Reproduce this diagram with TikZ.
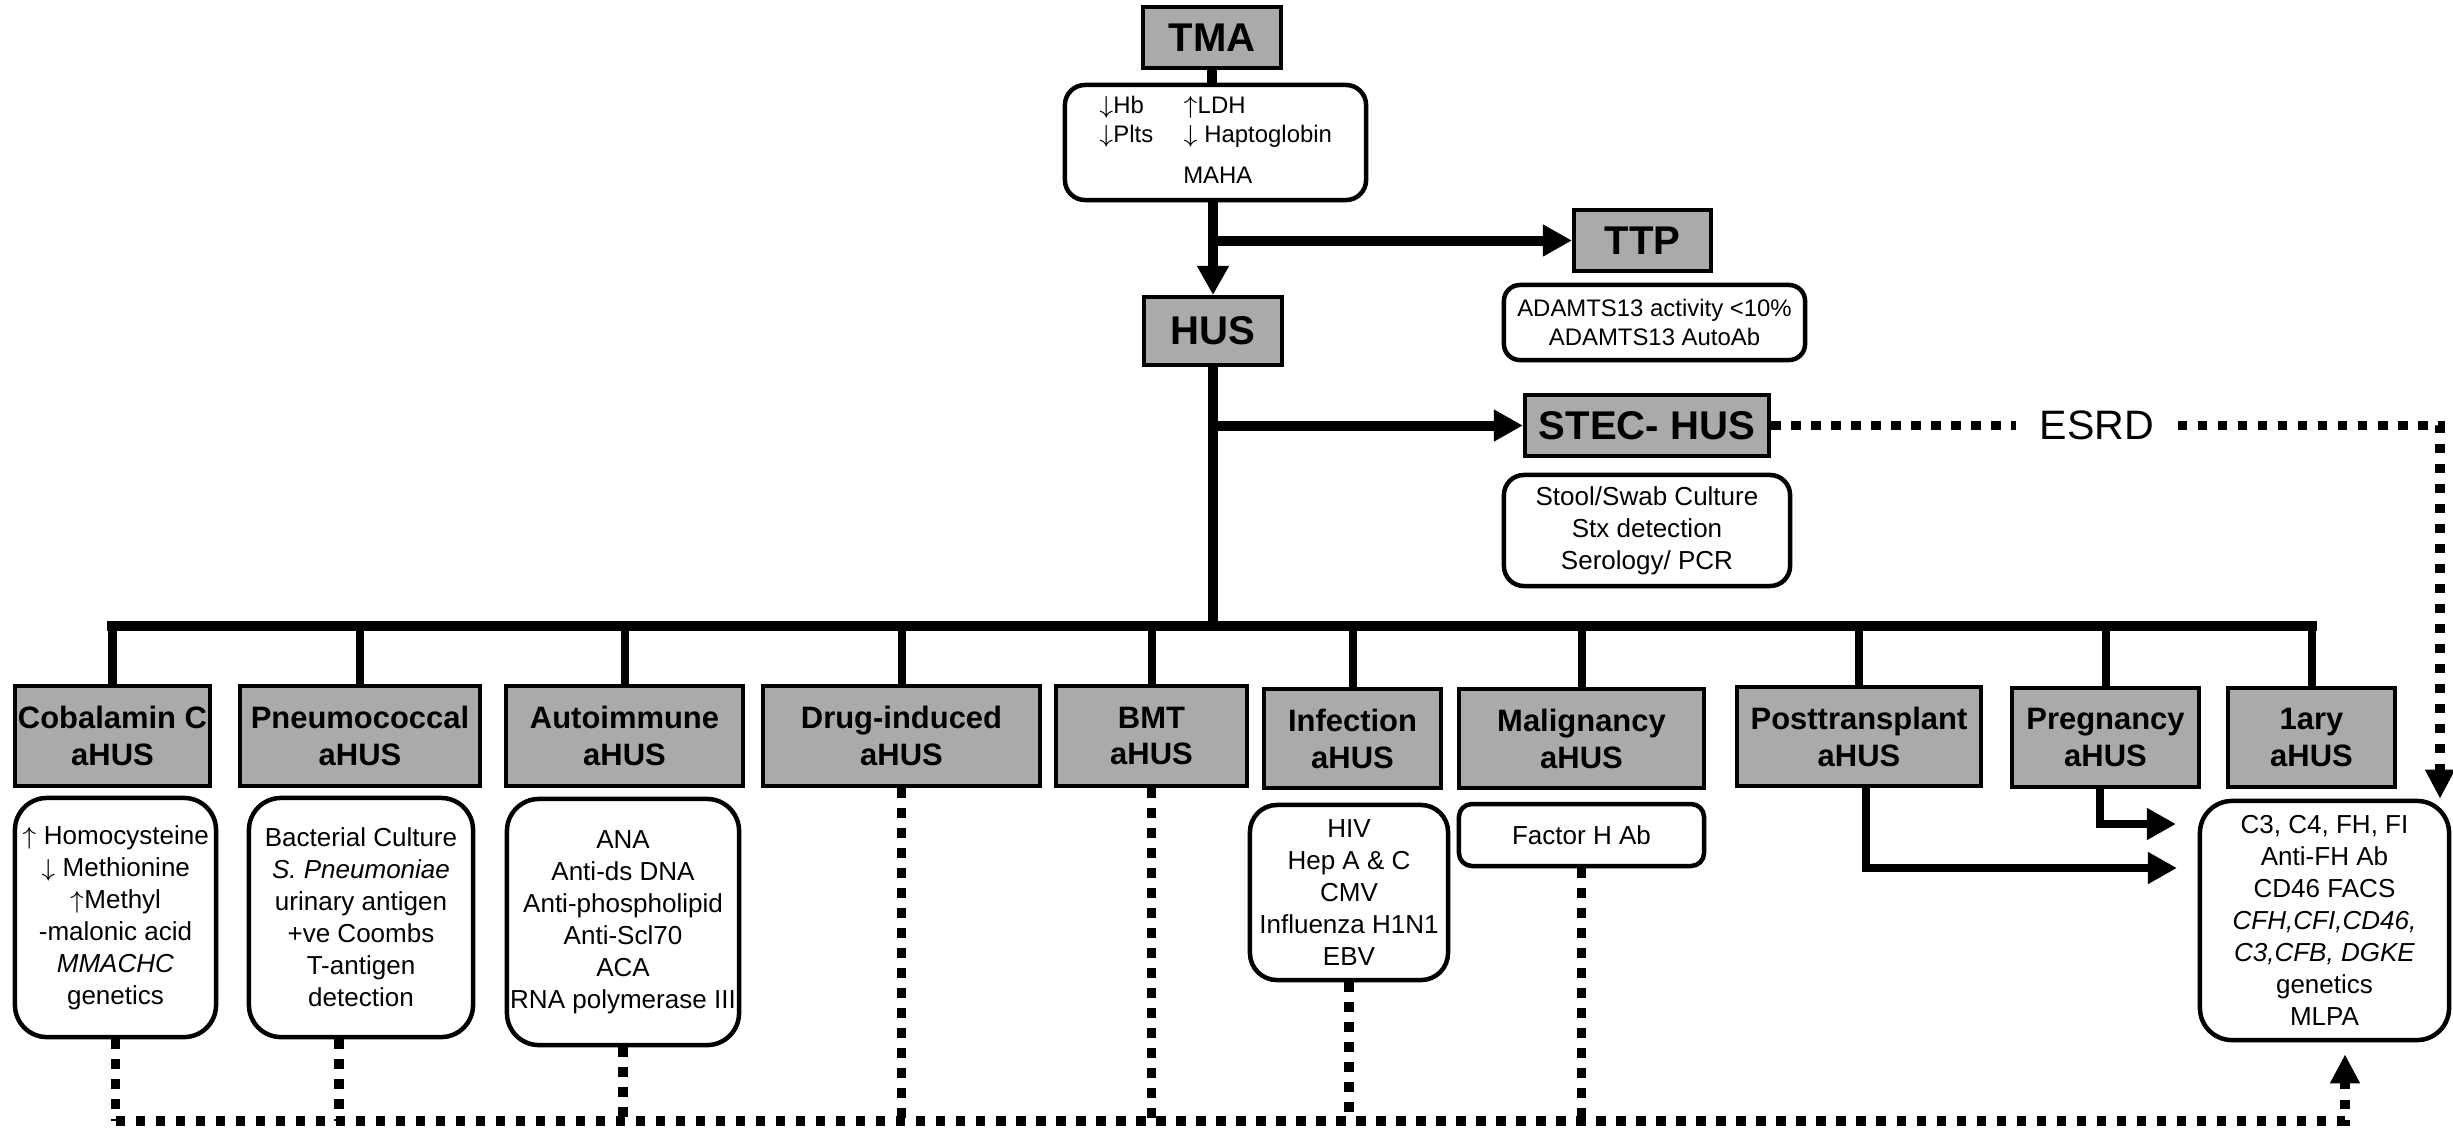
\documentclass[tikz,border=0pt]{standalone}
\usepackage{fontspec}
\setmainfont{Liberation Sans}
\usetikzlibrary{arrows.meta,calc}
\definecolor{boxgray}{RGB}{170,170,170}

\begin{document}
\begin{tikzpicture}[x=0.01cm, y=-0.01cm,
	graybox/.style={draw, fill=boxgray, line width=0.04cm, inner sep=0pt, align=center, font=\fontsize{8.8}{10.5}\selectfont\bfseries},
	headbox/.style={graybox, font=\fontsize{11.4}{13}\selectfont\bfseries},
	testbox/.style={draw, fill=white, line width=0.045cm, rounded corners=0.32cm, inner sep=0pt, align=center, font=\fontsize{7.4}{9.1}\selectfont},
	smallbox/.style={testbox, rounded corners=0.2cm, font=\fontsize{6.8}{8.25}\selectfont},
	trunk/.style={line width=0.1cm},
	stem/.style={line width=0.08cm},
	bigtip/.style={-{Triangle[length=0.29cm, width=0.30cm]}},
	dotline/.style={line width=0.095cm, dash pattern=on 0.095cm off 0.105cm},
	dottip/.style={-{Triangle[length=0.29cm, width=0.28cm]}}
	]
	\useasboundingbox (0,0) rectangle (2453,1129);
	% top of the tree
	\node[headbox, minimum width=1.37cm, minimum height=0.61cm] (tma) at (1212,37.5) {TMA};
	\node[smallbox, minimum width=3.01cm, minimum height=1.15cm] (maha) at (1215.5,142.5) {\begin{tabular}{@{}l@{\hspace{0.3cm}}l@{}}$\downarrow$Hb & $\uparrow$LDH\\ $\downarrow$Plts & $\downarrow$ Haptoglobin\\[0.12cm] & MAHA\end{tabular}};
	\node[headbox, minimum width=1.38cm, minimum height=0.68cm] (hus) at (1213,331) {HUS};
	\node[headbox, minimum width=1.37cm, minimum height=0.61cm] (ttp) at (1642.5,240.5) {TTP};
	\node[smallbox, rounded corners=0.16cm, minimum width=3.01cm, minimum height=0.75cm] (adamts) at (1654.5,322.5) {ADAMTS13 activity <10\%\\ADAMTS13 AutoAb};
	\node[headbox, minimum width=2.44cm, minimum height=0.61cm] (stec) at (1647,425.5) {STEC- HUS};
	\node[testbox, rounded corners=0.2cm, minimum width=2.86cm, minimum height=1.11cm] (stool) at (1647,530.5) {Stool/Swab Culture\\Stx detection\\Serology/ PCR};
	\node[font=\fontsize{11.7}{14}\selectfont, inner xsep=0.23cm, inner ysep=0pt] (esrd) at (2097,425.5) {ESRD};
	% aHUS groups
	\node[graybox, minimum width=1.95cm, minimum height=1.00cm] (cob) at (112.5,736) {Cobalamin C\\aHUS};
	\node[graybox, minimum width=2.40cm, minimum height=1.00cm] (pneu) at (360,736) {Pneumococcal\\aHUS};
	\node[graybox, minimum width=2.37cm, minimum height=1.00cm] (auto) at (624.5,736) {Autoimmune\\aHUS};
	\node[graybox, minimum width=2.77cm, minimum height=1.00cm] (drug) at (901.5,736) {Drug-induced\\aHUS};
	\node[graybox, minimum width=1.91cm, minimum height=1.00cm] (bmt) at (1151.5,736) {BMT\\aHUS};
	\node[graybox, minimum width=1.77cm, minimum height=0.99cm] (inf) at (1352.5,738.5) {Infection\\aHUS};
	\node[graybox, minimum width=2.45cm, minimum height=0.99cm] (mal) at (1581.5,738.5) {Malignancy\\aHUS};
	\node[graybox, minimum width=2.44cm, minimum height=0.99cm] (post) at (1859,736.5) {Posttransplant\\aHUS};
	\node[graybox, minimum width=1.87cm, minimum height=0.99cm] (preg) at (2105.5,737.5) {Pregnancy\\aHUS};
	\node[graybox, minimum width=1.67cm, minimum height=0.99cm] (one) at (2311.5,737.5) {1ary\\aHUS};
	% work-up boxes
	\node[testbox, minimum width=2.01cm, minimum height=2.39cm] (cobw) at (115.5,917.5) {$\uparrow$ Homocysteine\\$\downarrow$ Methionine\\$\uparrow$Methyl\\-malonic acid\\\textit{MMACHC}\\genetics};
	\node[testbox, minimum width=2.24cm, minimum height=2.39cm] (pneuw) at (361,917.5) {Bacterial Culture\\\textit{S. Pneumoniae}\\urinary antigen\\+ve Coombs\\T-antigen\\detection};
	\node[testbox, minimum width=2.32cm, minimum height=2.46cm] (autow) at (623,922) {ANA\\Anti-ds DNA\\Anti-phospholipid\\Anti-Scl70\\ACA\\RNA polymerase III};
	\node[testbox, rounded corners=0.27cm, minimum width=1.98cm, minimum height=1.75cm] (infw) at (1349,892.5) {HIV\\Hep A \& C\\CMV\\Influenza H1N1\\EBV};
	\node[testbox, rounded corners=0.13cm, minimum width=2.45cm, minimum height=0.62cm] (malw) at (1581.5,835) {Factor H Ab};
	\node[testbox, minimum width=2.49cm, minimum height=2.39cm] (onew) at (2324.5,920.5) {C3, C4, FH, FI\\Anti-FH Ab\\CD46 FACS\\\textit{CFH,CFI,CD46,}\\\textit{C3,CFB, DGKE}\\genetics\\MLPA};
	\coordinate (bus) at (1213,626);
	\coordinate (dbus) at (0,1121);
	\coordinate (esrdturn) at (2440,425.5);
	\coordinate (uptail) at (2345,1121);
	\coordinate (posttip) at (2177,868);
	\coordinate (pregtip) at (2176,824);
	\coordinate (pneudot) at ($(pneuw.south)+(-22,0)$);
	% solid connectors
	\draw[trunk] (tma.south) -- (tma.south |- maha.north);
	\draw[trunk, bigtip] (maha.south -| hus.north) -- (hus.north);
	\draw[trunk, bigtip] (hus.north |- ttp.west) -- (ttp.west);
	\draw[trunk] (hus.south) -- (bus);
	\draw[trunk, bigtip] (hus.north |- stec.west) -- (stec.west);
	\draw[trunk, line cap=rect] (cob.north |- bus) -- (one.north |- bus);
	\foreach \n in {cob,pneu,auto,drug,bmt,inf,mal,post,preg,one}
		\draw[stem] (\n.north |- bus) -- (\n.north);
	\draw[stem, bigtip] ([xshift=0.07cm]post.south) |- (posttip);
	\draw[stem, bigtip] ([xshift=-0.06cm]preg.south) |- (pregtip);
	% dotted connectors
	\draw[dotline] (stec.east) -- (stec.east -| esrd.west);
	\draw[dotline, dottip] (esrd.east |- stec.east) -- (esrdturn) -- (esrdturn |- onew.north);
	\foreach \n in {cobw,autow,drug,bmt,infw,malw}
		\draw[dotline] (\n.south) -- (\n.south |- dbus);
	\draw[dotline] (pneudot) -- (pneudot |- dbus);
	\draw[dotline, dottip, shorten >=0.12cm] (cobw.south |- dbus) -- (uptail) -- (uptail |- onew.south);
\end{tikzpicture}
\end{document}
